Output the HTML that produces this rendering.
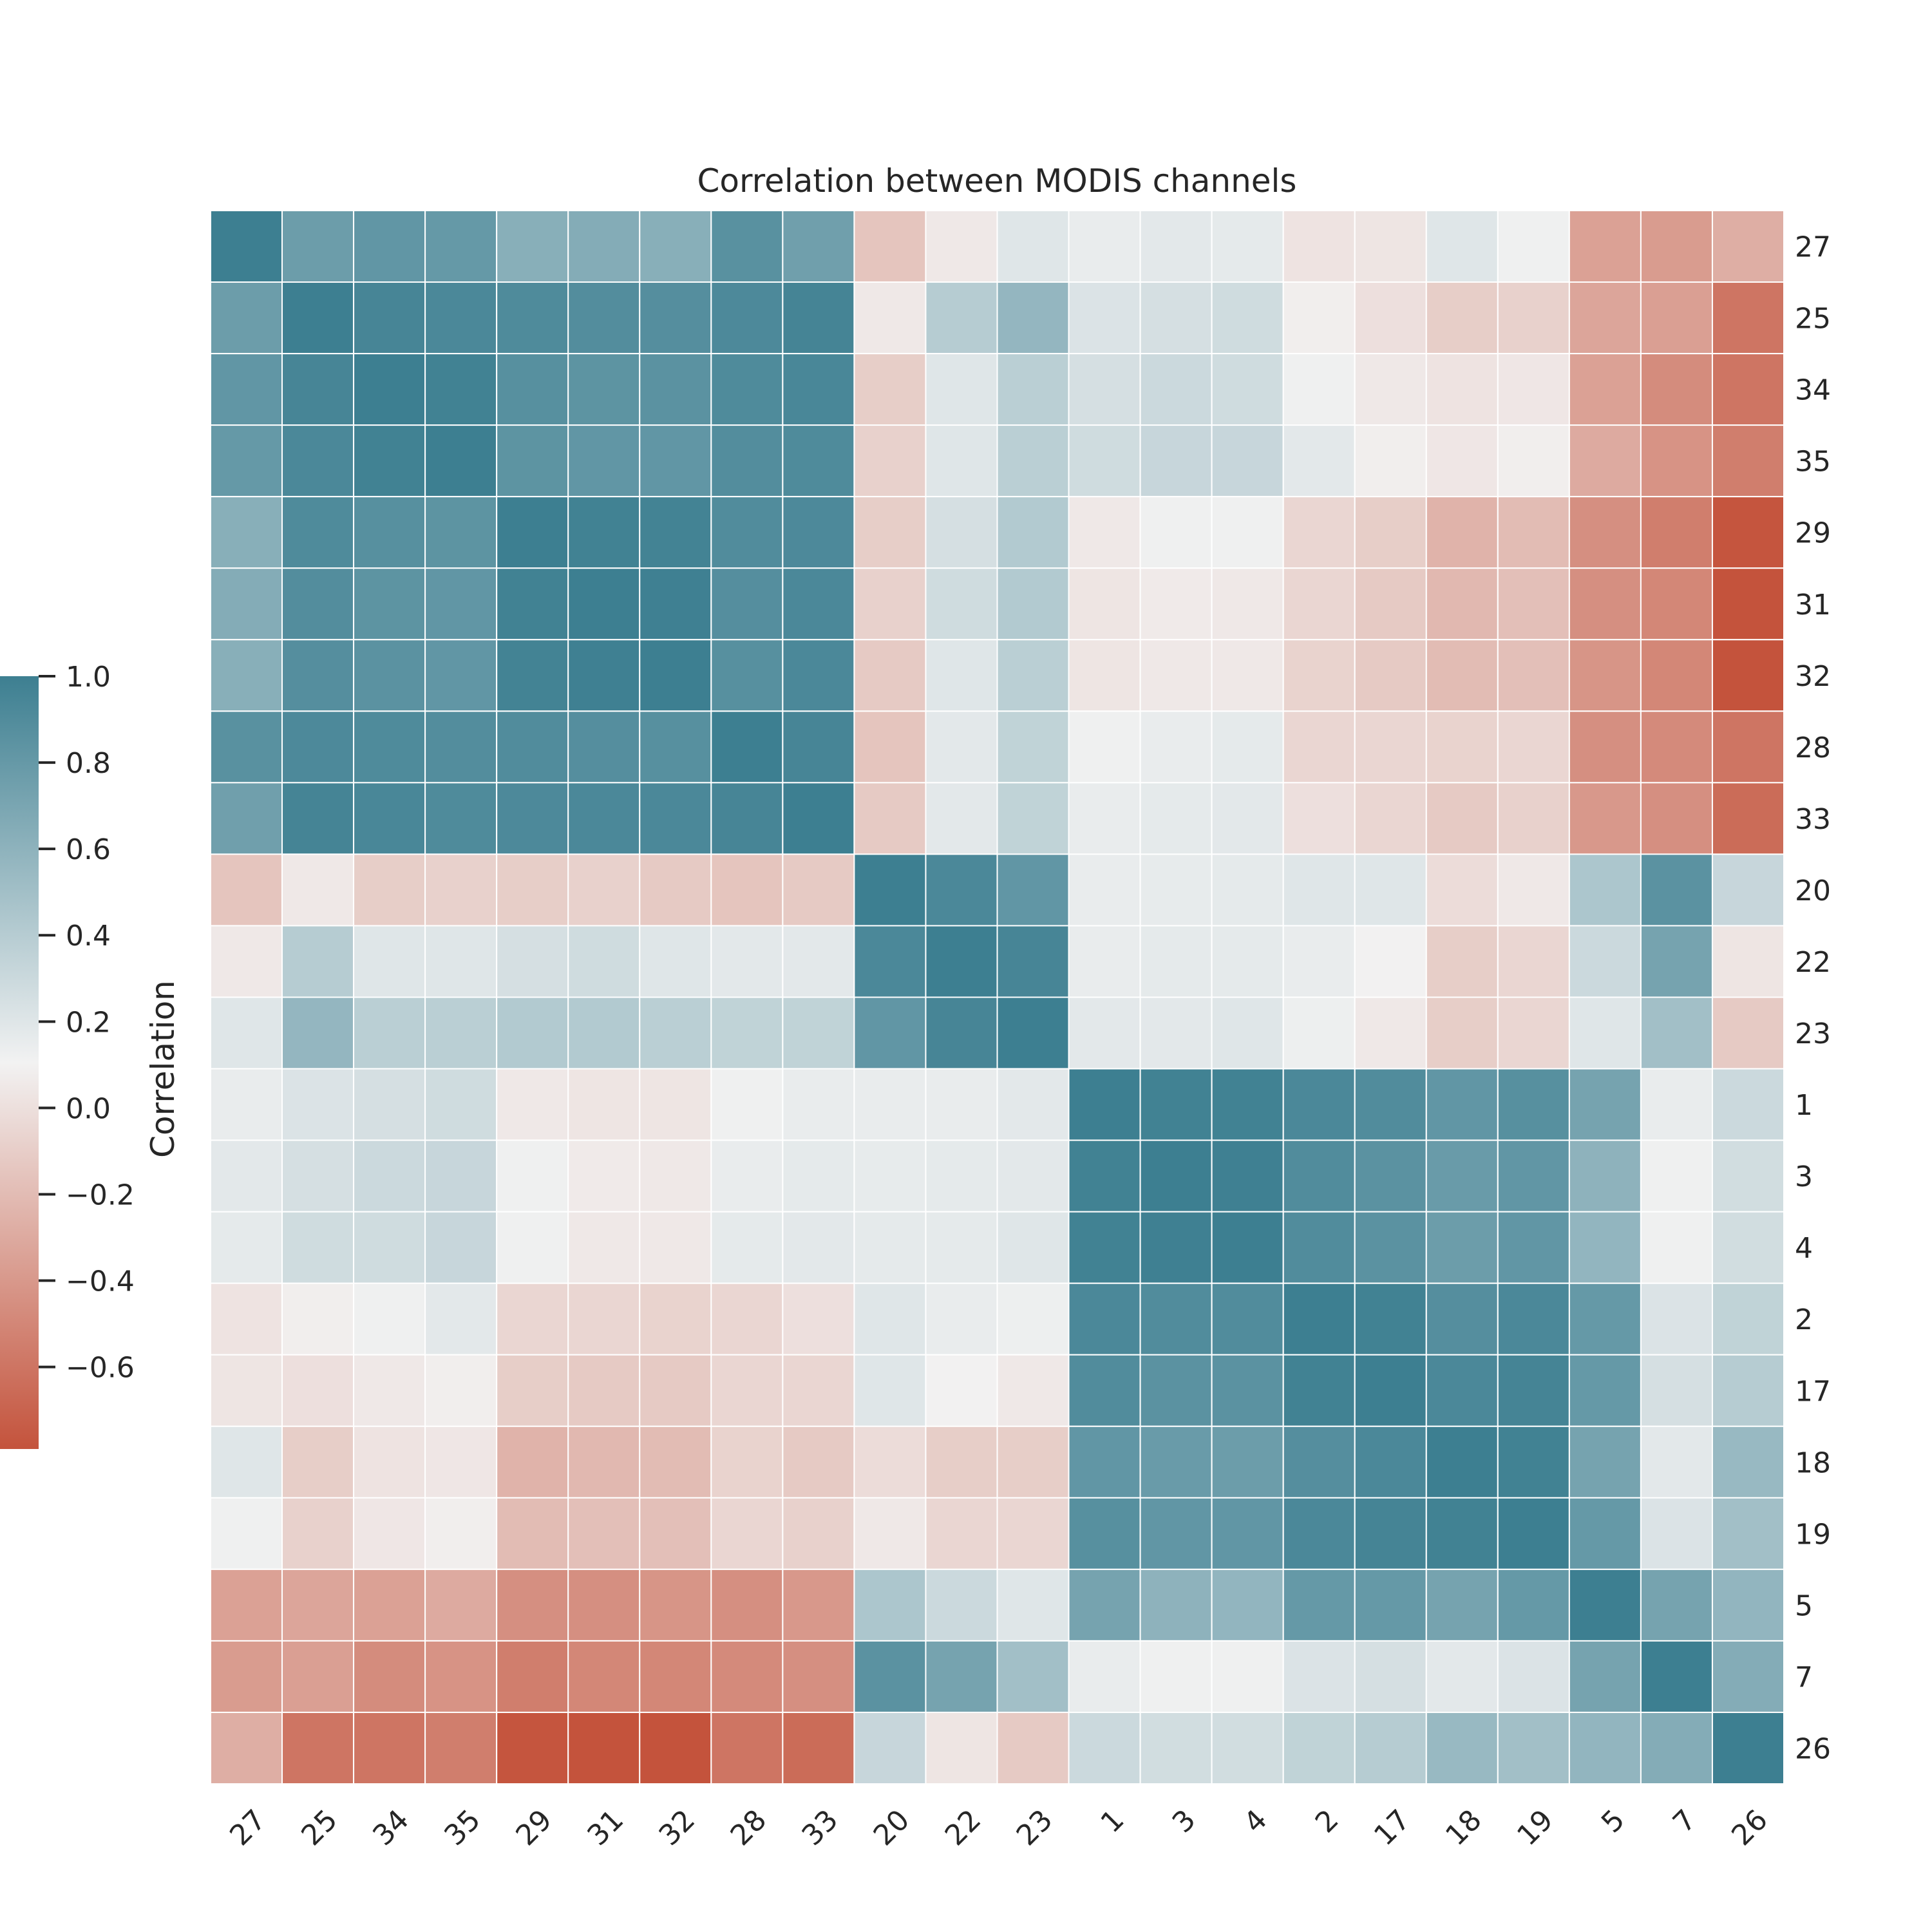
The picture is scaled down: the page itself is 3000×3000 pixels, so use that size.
<!DOCTYPE html>
<html><head><meta charset="utf-8"><style>
html,body{margin:0;padding:0;background:#fff;}
svg{display:block;font-family:"DejaVu Sans","Liberation Sans",sans-serif;}
</style></head><body>
<svg id="chart" width="3000" height="3000" viewBox="0 0 3000 3000" xmlns="http://www.w3.org/2000/svg">
<defs>
<linearGradient id="cbg" x1="0" y1="1" x2="0" y2="0">
<stop offset="0" stop-color="rgb(196,83,60)"/>
<stop offset="0.5" stop-color="rgb(242,242,242)"/>
<stop offset="1" stop-color="rgb(61,127,145)"/>
</linearGradient>
</defs>
<text x="1548" y="298" font-size="50" text-anchor="middle" fill="#262626">Correlation between MODIS channels</text>
<g id="cells"></g>
<g id="xlabels"></g>
<g id="ylabels"></g>
<rect x="0" y="1050" width="60" height="1200" fill="url(#cbg)"/>
<g id="cbticks"></g>
<text x="0" y="0" font-size="50" fill="#262626" text-anchor="middle" transform="translate(270,1660) rotate(-90)">Correlation</text>
</svg>
<script>
const labels=["27","25","34","35","29","31","32","28","33","20","22","23","1","3","4","2","17","18","19","5","7","26"];
const upper=[
[1,.77,.82,.8,.63,.65,.63,.86,.75,-.15,.05,.2,.15,.18,.17,.02,.03,.2,.12,-.35,-.38,-.28],
[1,.95,.93,.91,.89,.88,.92,.96,.05,.4,.57,.22,.25,.28,.08,0,-.1,-.08,-.33,-.36,-.6],
[1,.98,.87,.84,.85,.91,.94,-.1,.2,.38,.25,.3,.28,.12,.05,.02,.04,-.35,-.47,-.6],
[1,.84,.82,.82,.89,.91,-.08,.2,.38,.28,.32,.32,.18,.08,.04,.08,-.3,-.43,-.55],
[1,.98,.97,.9,.92,-.1,.25,.42,.05,.12,.12,-.05,-.1,-.25,-.2,-.45,-.55,-.78],
[1,.99,.88,.93,-.08,.28,.42,.03,.06,.05,-.05,-.12,-.22,-.18,-.45,-.5,-.8],
[1,.87,.93,-.12,.2,.38,.03,.05,.05,-.07,-.12,-.2,-.18,-.42,-.5,-.8],
[1,.95,-.15,.18,.35,.12,.15,.17,-.05,-.05,-.07,-.05,-.45,-.48,-.6],
[1,-.12,.18,.35,.15,.17,.18,0,-.05,-.12,-.08,-.4,-.45,-.65],
[1,.93,.82,.15,.16,.17,.2,.2,-.02,.05,.45,.85,.32],
[1,.95,.15,.17,.17,.15,.1,-.1,-.05,.3,.72,.03],
[1,.18,.18,.2,.13,.05,-.1,-.05,.2,.5,-.12],
[1,.98,.98,.93,.9,.82,.87,.72,.15,.3],
[1,.99,.9,.85,.78,.82,.6,.12,.27],
[1,.9,.85,.77,.82,.58,.12,.27],
[1,.98,.88,.93,.8,.22,.35],
[1,.93,.96,.8,.25,.4],
[1,.98,.72,.18,.55],
[1,.8,.22,.5],
[1,.72,.58],
[1,.65],
[1]];
const cbTicks=[1.0,0.8,0.6,0.4,0.2,0.0,-0.2,-0.4,-0.6];
const vmin=-0.79, vmax=1.0;
const NS="http://www.w3.org/2000/svg";
const x0=327,y0=327,size=2443,n=labels.length,cw=size/n;
function val(i,j){return i<=j?upper[i][j-i]:upper[j][i-j];}
function color(v){
  let t=(v-vmin)/(vmax-vmin);t=Math.max(0,Math.min(1,t));
  const r=[196,83,60],m=[242,242,242],b=[61,127,145];
  let c;
  if(t<0.5){const u=t/0.5;c=r.map((a,k)=>a+(m[k]-a)*u);}
  else{const u=(t-0.5)/0.5;c=m.map((a,k)=>a+(b[k]-a)*u);}
  return `rgb(${c.map(Math.round).join(',')})`;
}
const xs=i=>x0+i*cw, ys=i=>y0+i*cw;
const cells=document.getElementById('cells');
for(let i=0;i<n;i++)for(let j=0;j<n;j++){
  const r=document.createElementNS(NS,'rect');
  
  
  r.setAttribute('x',xs(j));r.setAttribute('y',ys(i));
  r.setAttribute('width',cw);r.setAttribute('height',cw);
  r.setAttribute('fill',color(val(i,j)));
  r.setAttribute('stroke','#fff');r.setAttribute('stroke-width','2');
  cells.appendChild(r);
}
const yl=document.getElementById('ylabels'),xl=document.getElementById('xlabels');
for(let i=0;i<n;i++){
  const t=document.createElementNS(NS,'text');
  
  
  t.setAttribute('x',2787);t.setAttribute('y',ys(i)+cw/2+16);
  t.setAttribute('font-size','44');t.setAttribute('fill','#262626');
  t.textContent=labels[i];yl.appendChild(t);
  const s=document.createElementNS(NS,'text');
  
  
  const cx=xs(i)+cw/2+10, cy=2806;
  s.setAttribute('x',cx);s.setAttribute('y',cy);
  s.setAttribute('text-anchor','end');
  s.setAttribute('font-size','44');s.setAttribute('fill','#262626');
  s.setAttribute('transform',`rotate(-45 ${cx} ${cy})`);
  s.setAttribute('dominant-baseline','hanging');
  s.textContent=labels[i];xl.appendChild(s);
}
const cb=document.getElementById('cbticks');
const cbY=v=>1050+(vmax-v)/(vmax-vmin)*1200;
cbTicks.forEach(v=>{
  const y=cbY(v);
  const l=document.createElementNS(NS,'line');
  
  
  l.setAttribute('x1',60);l.setAttribute('x2',86);l.setAttribute('y1',y);l.setAttribute('y2',y);
  l.setAttribute('stroke','#262626');l.setAttribute('stroke-width','4');
  cb.appendChild(l);
  const t=document.createElementNS(NS,'text');
  
  
  t.setAttribute('x',102);t.setAttribute('y',y+16);
  t.setAttribute('font-size','44');t.setAttribute('fill','#262626');
  t.textContent=(v<0?'\u2212':'')+Math.abs(v).toFixed(1);
  cb.appendChild(t);
});
</script>
</body></html>
